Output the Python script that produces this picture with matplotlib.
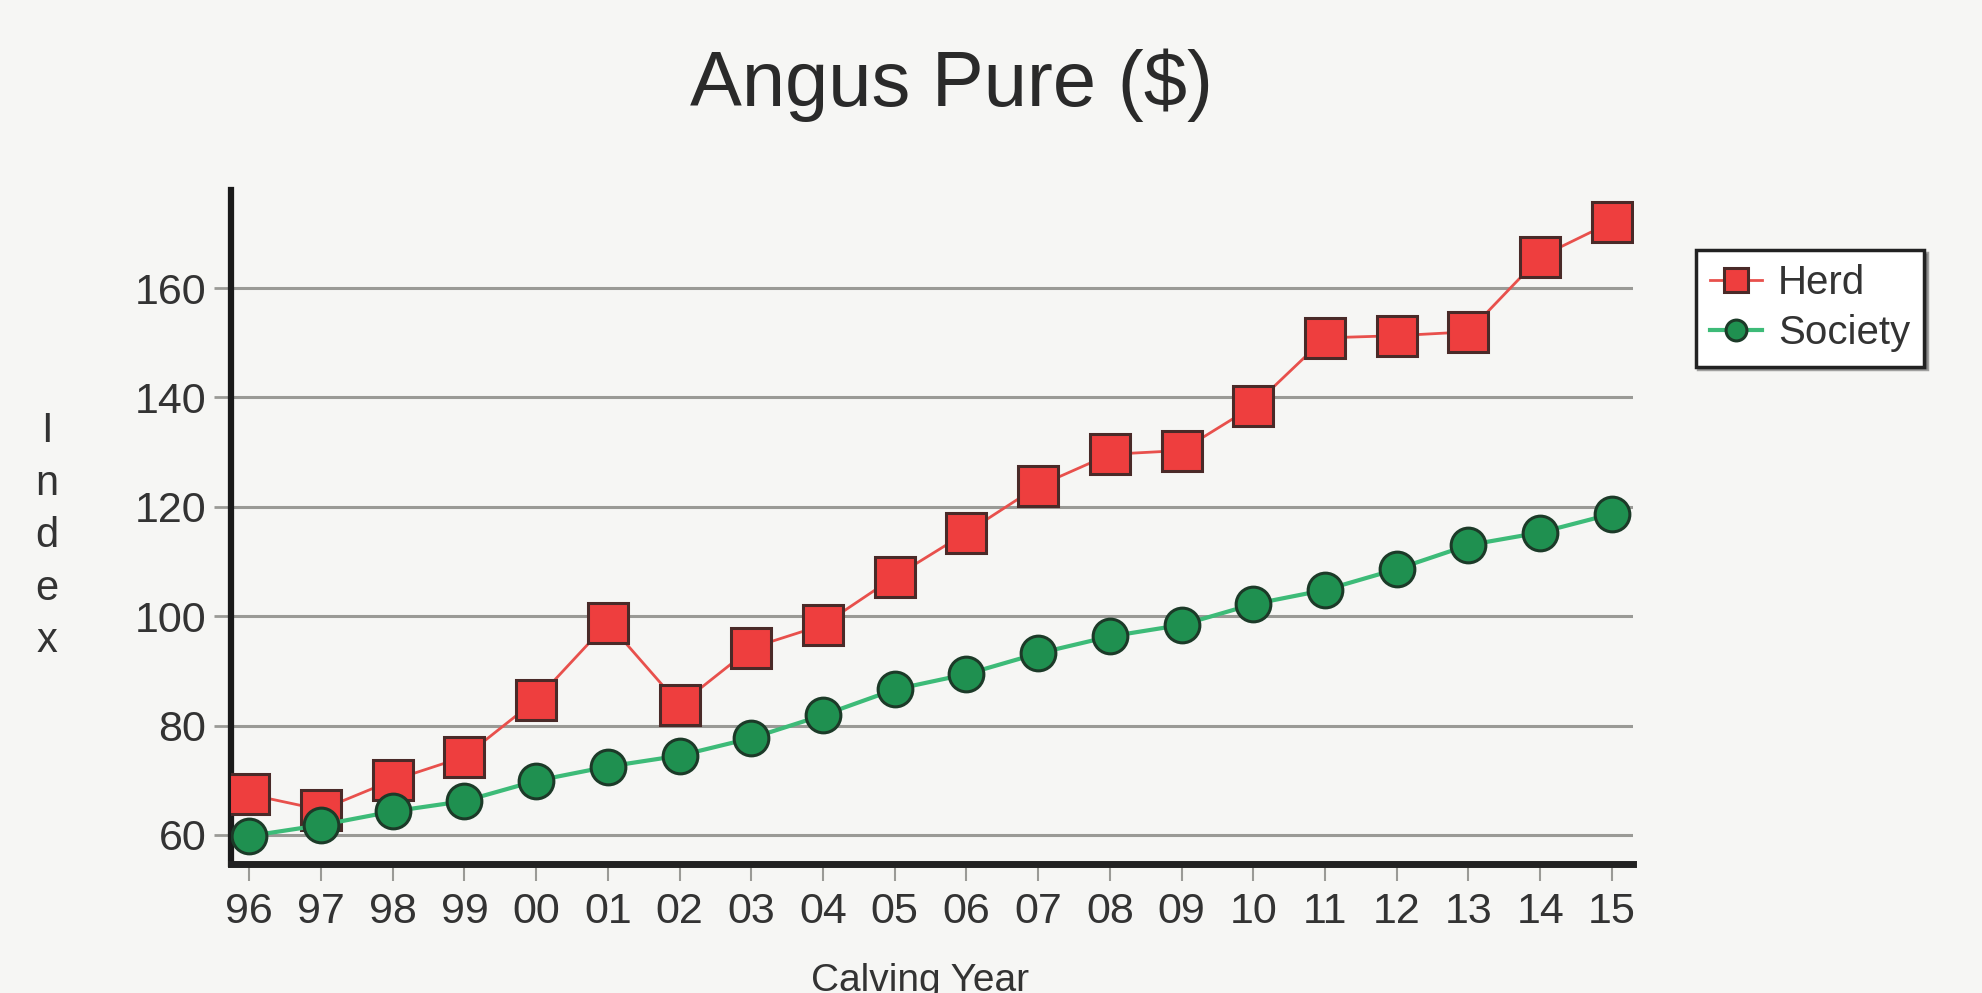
import matplotlib
matplotlib.use("Agg")
import matplotlib.pyplot as plt

plt.rcParams['font.family'] = ['Liberation Sans', 'DejaVu Sans']

years = ["96", "97", "98", "99", "00", "01", "02", "03", "04", "05",
         "06", "07", "08", "09", "10", "11", "12", "13", "14", "15"]
herd = [67.4, 64.6, 70.0, 74.3, 84.7, 98.8, 83.8, 94.2, 98.4, 107.2,
        115.3, 123.8, 129.6, 130.3, 138.4, 150.9, 151.3, 152.0, 165.7, 172.1]
society = [59.8, 61.8, 64.3, 66.2, 69.9, 72.5, 74.5, 77.7, 81.9, 86.6,
           89.4, 93.2, 96.3, 98.4, 102.2, 104.8, 108.6, 113.0, 115.3, 118.7]
yticks = [60, 80, 100, 120, 140, 160]

bg = '#f6f6f4'
fig = plt.figure(figsize=(19.83, 9.93), dpi=100, facecolor=bg)
ax = fig.add_axes([0.1167, 0.130, 0.707, 0.679], facecolor=bg)

x = list(range(len(years)))
for yv in yticks:
    ax.axhline(yv, color='#9a9a96', lw=2.2, zorder=1)

ax.plot(x, herd, color='#e8504c', lw=2.0, marker='s', markersize=29,
        markerfacecolor='#ee3e3e', markeredgecolor='#4a2a28', markeredgewidth=2.2,
        label='Herd', zorder=3)
ax.plot(x, society, color='#3dbb78', lw=3.0, marker='o', markersize=25,
        markerfacecolor='#1f9050', markeredgecolor='#1c3a28', markeredgewidth=2.2,
        label='Society', zorder=4)

ax.set_xlim(-0.25, 19.3)
ax.set_ylim(54.7, 178)
ax.set_xticks(x)
ax.set_xticklabels(years)
ax.set_yticks(yticks)
ax.tick_params(axis='y', labelsize=31, colors='#9a9a96', labelcolor='#333333',
               length=12, width=2, pad=6)
ax.tick_params(axis='x', labelsize=31, colors='#9a9a96', labelcolor='#333333',
               length=12, width=1.5, pad=8)

for s in ['top', 'right']:
    ax.spines[s].set_visible(False)
ax.spines['left'].set_linewidth(4.5)
ax.spines['left'].set_color('#1a1a1a')
ax.spines['bottom'].set_linewidth(5)
ax.spines['bottom'].set_color('#222222')

fig.text(0.48, 0.914, 'Angus Pure ($)', ha='center', va='center',
         fontsize=56, color='#2a2a2a')
fig.text(0.0235, 0.46, 'I\nn\nd\ne\nx', ha='center', va='center',
         fontsize=30, color='#333333', linespacing=1.4)
fig.text(0.464, 0.03, 'Calving Year', ha='center', va='top',
         fontsize=28, color='#333333')

leg = ax.legend(loc='upper left', bbox_to_anchor=(1.03, 0.94), fontsize=29,
                frameon=True, fancybox=False, shadow=True, markerscale=0.6,
                handlelength=1.3, handletextpad=0.4, borderpad=0.35,
                labelspacing=0.3)
leg.get_frame().set_edgecolor('#222222')
leg.get_frame().set_linewidth(2.5)
leg.get_frame().set_facecolor('#ffffff')
for t in leg.get_texts():
    t.set_color('#333333')

fig.savefig('out.png', dpi=100, facecolor=bg)
